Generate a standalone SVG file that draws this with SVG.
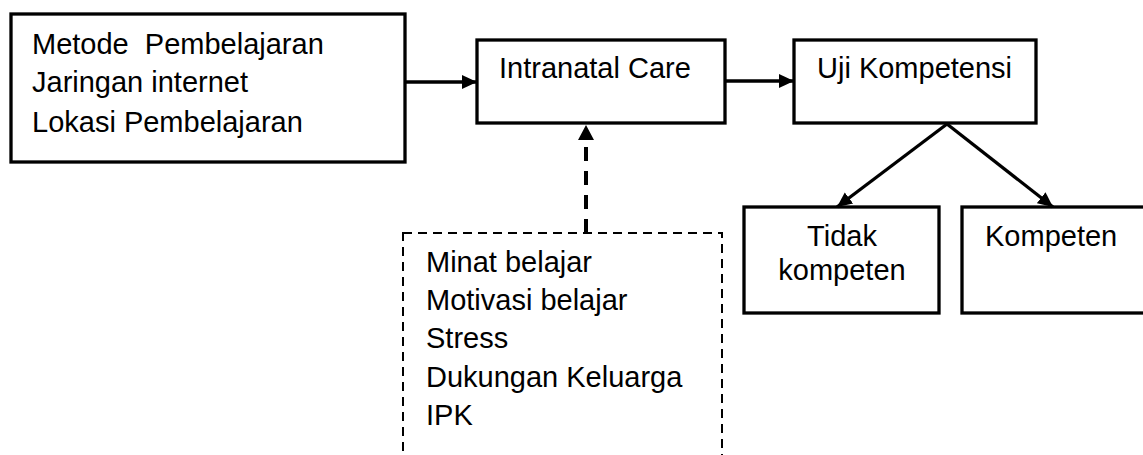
<svg xmlns="http://www.w3.org/2000/svg" width="1143" height="455" viewBox="0 0 1143 455">
<style>
.box{fill:#fff;stroke:#000;stroke-width:3.3}
.dbox{fill:none;stroke:#000;stroke-width:2;stroke-dasharray:9 6}
.t{font-family:"Liberation Sans",Arial,sans-serif;font-size:29px;fill:#000;white-space:pre}
.c{stroke:#000;stroke-width:3.3;fill:none}
.dc{stroke:#000;stroke-width:4;fill:none;stroke-dasharray:14 10}
</style>
<defs>
<marker id="ah" markerUnits="userSpaceOnUse" markerWidth="16" markerHeight="16" viewBox="0 0 16 16" refX="15" refY="8" orient="auto">
<path d="M0,1 L15,8 L0,15 Z" fill="#000"/>
</marker>
</defs>
<g id="n1">
<rect class="box" x="11" y="14" width="394" height="148"/>
<text class="t" x="32" y="54" xml:space="preserve">Metode  Pembelajaran</text>
<text class="t" x="32" y="92">Jaringan internet</text>
<text class="t" x="32" y="132">Lokasi Pembelajaran</text>
</g>
<g id="n2">
<rect class="box" x="477" y="40" width="248" height="83"/>
<text class="t" x="499" y="78">Intranatal Care</text>
</g>
<g id="n3">
<rect class="box" x="794" y="40" width="242" height="83"/>
<text class="t" x="817" y="78">Uji Kompetensi</text>
</g>
<g id="n4">
<rect class="box" x="744" y="207" width="195" height="106"/>
<text class="t" x="842" y="246" text-anchor="middle">Tidak</text>
<text class="t" x="842" y="280" text-anchor="middle">kompeten</text>
</g>
<g id="n5">
<rect class="box" x="962" y="207" width="190" height="106"/>
<text class="t" x="985" y="246">Kompeten</text>
</g>
<g id="n6">
<rect class="dbox" x="403" y="233" width="319" height="240"/>
<text class="t" x="426" y="272">Minat belajar</text>
<text class="t" x="426" y="310">Motivasi belajar</text>
<text class="t" x="426" y="348">Stress</text>
<text class="t" x="426" y="387">Dukungan Keluarga</text>
<text class="t" x="426" y="425">IPK</text>
</g>
<g id="connectors">
<line class="c" x1="405" y1="82" x2="477" y2="82" marker-end="url(#ah)"/>
<line class="c" x1="725" y1="81" x2="794" y2="81" marker-end="url(#ah)"/>
<line class="c" x1="947" y1="124" x2="837" y2="207" marker-end="url(#ah)"/>
<line class="c" x1="947" y1="124" x2="1053" y2="207" marker-end="url(#ah)"/>
<line class="dc" x1="586" y1="233" x2="586" y2="140"/>
<path d="M578,140 L586,125 L594,140 Z" fill="#000"/>
</g>
</svg>
